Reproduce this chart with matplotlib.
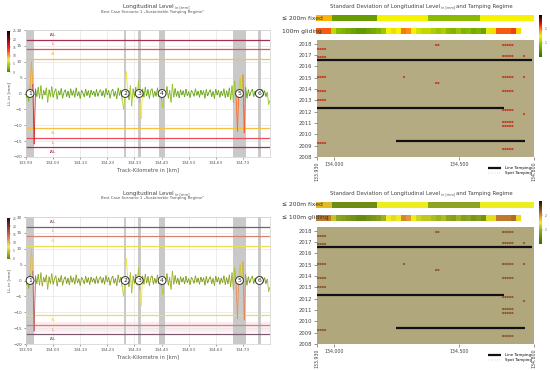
import numpy as np
import matplotlib
matplotlib.use('Agg')
from matplotlib import pyplot as plt
from matplotlib.collections import LineCollection
from matplotlib.colors import LinearSegmentedColormap, Normalize
from matplotlib.cm import ScalarMappable

# ---- data -----------------------------------------------------------------
# longitudinal level, one value every 5 m starting at km 133.930
km_start = 133.93
km_step = 0.005
ll = [-1.5, 1.0, -2.5, 2.0, 10.0, 3.0, -16.0, 1.5, -1.0, 2.0,
      -1.5, 2.5, -1.8, 1.0, -0.5, 1.8, -2.8, 1.2, -1.0, 2.2,
      -1.2, 0.5, 1.5, -1.8, 0.8, -0.5, 1.6, -1.5, 0.4, 1.2,
      -1.0, 0.8, -1.4, 1.5, -0.6, 0.9, -1.2, 1.8, -0.8, 0.6,
      -1.6, 1.0, 0.2, -1.1, 1.4, -0.7, 0.9, -1.3, 1.1, -0.4,
      0.7, -1.0, 1.3, -0.9, 0.5, 1.2, -0.8, 0.9, -1.2, 1.6,
      -0.5, 1.0, -1.5, 0.6, 1.4, -0.9, 0.7, -1.7, 1.8, -0.6,
      1.1, -2.2, -5.0, 0.5, 7.0, 1.0, -2.0, 2.5, -4.0, 1.5,
      -1.0, 2.0, -1.5, 4.0, -3.0, -8.0, 1.5, -1.2, 2.0, -0.8,
      1.3, -1.6, 0.9, 1.5, -1.2, 0.7, -0.9, 1.8, -1.0, 0.6,
      -1.8, -4.5, 1.2, -0.6, 2.2, -1.5, 1.0, -2.8, 3.0, -1.2,
      1.6, -0.9, 0.8, -1.4, 1.2, -0.5, 0.9, -1.1, 1.4, -0.7,
      0.6, -1.3, 1.0, 0.3, -0.9, 1.5, -0.6, 0.8, -1.2, 1.1,
      -0.4, 0.9, -1.5, 1.3, -0.8, 0.5, 1.2, -1.0, 0.7, -1.6,
      1.4, -0.5, 1.0, -1.2, 0.8, -0.7, 1.5, -1.3, 0.9, -1.1,
      1.8, -2.0, 2.5, -3.0, 4.0, -1.0, -12.0, 1.0, 5.0, -2.0,
      6.0, -12.5, 2.0, -1.5, 1.2, -0.8, 0.6, 1.4, -1.0, 0.8,
      -0.5, 1.2, -0.9, 0.7, 1.3, -0.6, 0.9, -1.0, 0.5, -3.5, -2.0]

limit_names = ['IAL', 'IL', 'AL']
limit_values = [17, 14, 11]

region_from = [133.930, 134.292, 134.342, 134.420, 134.695, 134.786]
region_to = [133.960, 134.300, 134.353, 134.444, 134.740, 134.796]
region_labels = ['1', '2', '3', '4', '5', '6']

level_ticks = [133.93, 134.03, 134.13, 134.23, 134.33, 134.43, 134.53, 134.63, 134.73]

# standard deviation strips
fixed_edges = [133.93, 133.993, 134.175, 134.378, 134.585, 134.80]
fixed_sd = [1.75, 0.55, 1.5, 0.9, 1.5]
gliding_start = 133.93
gliding_step = 0.02
gliding_sd = [2.1, 2.1, 2.1, 1.2, 0.9, 0.8, 0.7, 0.6, 0.5, 0.5,
              0.6, 0.7, 0.8, 1.0, 1.5, 1.6, 1.5, 2.0, 1.9, 1.5,
              1.3, 1.2, 1.2, 1.1, 1.0, 1.1, 0.9, 0.8, 1.0, 0.8,
              0.9, 0.7, 0.8, 0.6, 1.4, 1.6, 2.1, 2.1, 2.1, 2.2, 1.6]

# tamping regime
line_year = [2016.54, 2012.30, 2009.40]
line_from = [133.930, 133.930, 134.248]
line_to = [134.790, 134.680, 134.762]

spot_year = [2017.86, 2017.86, 2017.86, 2017.56, 2016.83, 2016.92, 2016.92,
             2015.69, 2015.02, 2015.02, 2015.02, 2015.02, 2015.02,
             2014.55, 2014.55, 2013.79, 2013.79, 2013.06, 2012.12,
             2011.75, 2011.22, 2011.07, 2010.75, 2009.85, 2009.26,
             2008.73, 2008.73]
spot_from = [134.333, 134.409, 134.676, 133.936, 133.936, 134.676, 134.759,
             134.333, 133.936, 134.279, 134.333, 134.676, 134.759,
             134.333, 134.409, 133.936, 134.676, 133.936, 134.676,
             134.759, 134.333, 134.676, 134.676, 134.333, 133.936,
             134.333, 134.676]
spot_to = [134.336, 134.419, 134.714, 133.966, 133.966, 134.718, 134.762,
           134.336, 133.966, 134.282, 134.336, 134.714, 134.762,
           134.336, 134.419, 133.966, 134.714, 133.966, 134.714,
           134.762, 134.336, 134.714, 134.714, 134.336, 133.966,
           134.336, 134.714]
years = list(range(2008, 2019))

# ---- styles for the two renderings ----------------------------------------
top_style = dict(
    ll_cmap=[(0, '#3f8a00'), (0.12, '#8cbf10'), (0.3, '#f0f030'), (0.55, '#ff3020'),
             (0.8, '#8a0010'), (1, '#000000')],
    sd_cmap=[(0, '#2f6e00'), (0.3, '#8cbc00'), (0.5, '#f5f500'), (0.66, '#ff7a10'),
             (0.8, '#e01010'), (1, '#000000')],
    limit_colors=['#a3304f', '#f04a5c', '#f8c040'],
    band=None, spot='#c0402a', tan='#b5ab82')
bottom_style = dict(
    ll_cmap=[(0, '#5e8400'), (0.12, '#a0b020'), (0.3, '#eeee40'), (0.55, '#e06a60'),
             (0.8, '#803030'), (1, '#201010')],
    sd_cmap=[(0, '#3a6a00'), (0.3, '#8ea420'), (0.5, '#eeee20'), (0.66, '#d88a30'),
             (0.8, '#8a5020'), (1, '#201000')],
    limit_colors=['#7d5a72', '#d8806c', '#e8e050'],
    band='#fdebef', spot='#8a5a30', tan='#b1a77c')

W, H = 550, 370
fig = plt.figure(figsize=(5.5, 3.7), dpi=100)


def px_axes(l, t, r, b):
    return fig.add_axes([l / W, 1 - b / H, (r - l) / W, (b - t) / H])


def level_panel(y0, st):
    km = km_start + km_step * np.arange(len(ll))
    vals = np.array(ll)
    cmap = LinearSegmentedColormap.from_list('ll', st['ll_cmap'])
    norm = Normalize(0, 25)

    ax = px_axes(26, y0 + 30, 270, y0 + 157)
    ax.set_xlim(133.93, 134.83)
    ax.set_ylim(-20, 20)
    if st['band']:
        ax.axhspan(-16, -13, color=st['band'], zorder=0)
    for a, b in zip(region_from, region_to):
        ax.axvspan(a, b, color='#c9c9c9', lw=0, zorder=1)
    for name, v, c in zip(limit_names, limit_values, st['limit_colors']):
        ax.axhline(v, color=c, lw=0.9, zorder=2)
        ax.axhline(-v, color=c, lw=0.9, zorder=2)
        ax.text(134.03, v + 0.9, name, color=c, fontsize=3, ha='center', va='bottom')
        ax.text(134.03, -v - 0.9, name, color=c, fontsize=3, ha='center', va='top')

    pts = np.column_stack([km, vals]).reshape(-1, 1, 2)
    segs = np.concatenate([pts[:-1], pts[1:]], axis=1)
    lc = LineCollection(segs, cmap=cmap, norm=norm, lw=0.6, zorder=3)
    lc.set_array(np.maximum(np.abs(vals[:-1]), np.abs(vals[1:])))
    ax.add_collection(lc)

    for a, b, lab in zip(region_from, region_to, region_labels):
        ax.text((a + b) / 2, 0, lab, fontsize=4.3, ha='center', va='center', zorder=5,
                color='#222222',
                bbox=dict(boxstyle='circle,pad=0.24', fc='white', ec='#333333', lw=0.7))

    ax.set_xticks(level_ticks)
    ax.set_xticklabels(['%.2f' % t for t in level_ticks])
    ax.set_yticks(range(-20, 21, 5))
    ax.tick_params(labelsize=3, colors='#555555', length=1.5, width=0.4, pad=1.5)
    ax.grid(True, color='#e6e6e6', lw=0.5)
    ax.set_axisbelow(True)
    for s in ax.spines.values():
        s.set_color('#d0d0d0')
        s.set_linewidth(0.5)
    ax.set_xlabel('Track-Kilometre in [km]', fontsize=3.8, color='#555555', labelpad=1.5)
    ax.set_ylabel('LL in [mm]', fontsize=3.2, color='#555555', labelpad=1)

    cax = px_axes(7, y0 + 31, 10, y0 + 72)
    cb = fig.colorbar(ScalarMappable(norm=norm, cmap=cmap), cax=cax)
    cb.set_ticks([0, 5, 10, 15, 20, 25])
    cb.outline.set_linewidth(0)
    cax.tick_params(labelsize=2.2, colors='#555555', length=1, width=0.3, pad=1)

    t1 = fig.text(123 / W, 1 - (y0 + 8) / H, 'Longitudinal Level', fontsize=4.1,
                  color='#444444', ha='left', va='baseline')
    ax.annotate(' in [mm]', xy=(1, 0), xycoords=t1, fontsize=2.6, color='#555555',
                ha='left', va='bottom', annotation_clip=False)
    fig.text(153 / W, 1 - (y0 + 11.5) / H,
             'Best Case Scenario 1 \u201eSustainable Tamping Regime\u201c',
             fontsize=2.8, color='#555555', ha='center', va='center')


def regime_panel(y0, st, cbar, label2):
    cmap = LinearSegmentedColormap.from_list('sd', st['sd_cmap'])
    norm = Normalize(0, 3)

    s1 = px_axes(316, y0 + 15, 534, y0 + 21)
    s1.pcolormesh(fixed_edges, [0, 1], np.array([fixed_sd]), cmap=cmap, norm=norm)
    g_edges = gliding_start + gliding_step * np.arange(len(gliding_sd) + 1)
    s2 = px_axes(316, y0 + 28, 534, y0 + 34)
    s2.pcolormesh(g_edges, [0, 1], np.array([gliding_sd]), cmap=cmap, norm=norm)
    for s in (s1, s2):
        s.set_xlim(133.93, 134.80)
        s.axis('off')
    fig.text(282 / W, 1 - (y0 + 18) / H, '\u2264 200m fixed', fontsize=4.3,
             color='#333333', ha='left', va='center')
    fig.text(282 / W, 1 - (y0 + 31) / H, label2, fontsize=4.3,
             color='#333333', ha='left', va='center')

    cax = px_axes(539, y0 + cbar[0], 542, y0 + cbar[1])
    cb = fig.colorbar(ScalarMappable(norm=norm, cmap=cmap), cax=cax)
    cb.set_ticks([1, 2])
    cb.outline.set_linewidth(0)
    cax.tick_params(labelsize=2.2, colors='#555555', length=1, width=0.3, pad=1)

    ax = px_axes(317, y0 + 40, 534, y0 + 157)
    ax.set_facecolor(st['tan'])
    ax.set_xlim(133.93, 134.80)
    ax.set_ylim(2008, 2018.32)
    ax.hlines(line_year, line_from, line_to, colors='#111111', lw=1.6,
              label='Line Tamping')
    sp = ax.hlines(spot_year, spot_from, spot_to, colors=st['spot'], lw=1.6,
                   linestyles=(0, (0.05, 1.0)), label='Spot Tamping')
    sp.set_capstyle('round')
    ax.set_yticks(years)
    ax.set_xticks([133.93, 134.0, 134.5, 134.8])
    ax.set_xticklabels(['133.930', '134.000', '134.500', '134.800'])
    ax.get_xticklabels()[0].set_rotation(90)
    ax.get_xticklabels()[-1].set_rotation(90)
    ax.tick_params(axis='y', labelsize=3.8, colors='#444444', length=2, width=0.4, pad=1.5)
    ax.tick_params(axis='x', labelsize=3.4, colors='#444444', length=2, width=0.4, pad=1.5)
    for s in ax.spines.values():
        s.set_visible(False)
    ax.legend(loc='upper right', bbox_to_anchor=(534 / W, 1 - (y0 + 164) / H),
              bbox_transform=fig.transFigure, frameon=False, fontsize=2.8,
              handlelength=3.5, labelspacing=0.3, borderpad=0, handletextpad=1)

    t1 = fig.text(330 / W, 1 - (y0 + 8) / H, 'Standard Deviation of Longitudinal Level',
                  fontsize=3.9, color='#444444', ha='left', va='baseline')
    t2 = ax.annotate(' in [mm] ', xy=(1, 0), xycoords=t1, fontsize=2.5, color='#555555',
                     ha='left', va='bottom', annotation_clip=False)
    ax.annotate('and Tamping Regime', xy=(1, 0), xycoords=t2, fontsize=3.9,
                color='#444444', ha='left', va='bottom', annotation_clip=False)


level_panel(0, top_style)
level_panel(187, bottom_style)
regime_panel(0, top_style, (15, 57), '100m gliding')
regime_panel(187, bottom_style, (14, 57), '\u2264 100m gliding')

fig.savefig('out.png', dpi=100)
